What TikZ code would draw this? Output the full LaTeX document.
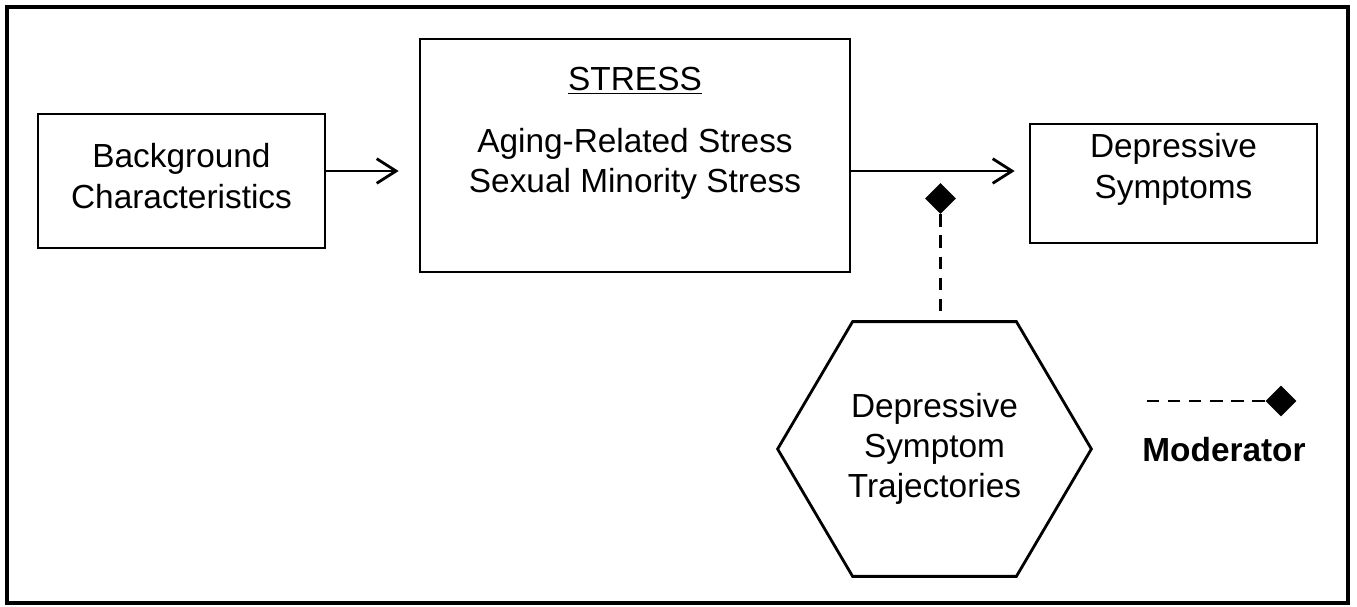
\documentclass[tikz,border=0pt]{standalone}
\usepackage{fontspec}
\setmainfont{Liberation Sans}
\usepackage{tikz}
\usetikzlibrary{arrows.meta,shapes.geometric}

\begin{document}
\begin{tikzpicture}[x=0.02cm,y=-0.02cm,
  box/.style={draw, line width=1.6pt, inner sep=0pt, align=center, font=\fontsize{19}{22.8}\selectfont},
  arr/.style={line width=1.6pt, -{Straight Barb[length=11pt,width=14pt,line width=1.6pt]}},
  moddia/.style={diamond, fill=black, inner sep=0pt, minimum size=0.62cm},
  modline/.style={line width=1.6pt, dash pattern=on 7pt off 5pt}]
\useasboundingbox (0,0) rectangle (1357,606);
\draw[line width=2pt] (7,7) rectangle (1348,603);
% boxes
\node[box, minimum width=5.74cm, text height=1.88cm, text depth=0.8cm] (bg) at (181.5,181) {Background\\Characteristics};
\node[box, minimum width=8.6cm, text height=3.08cm, text depth=1.58cm] (stress) at (635,155.5) {\underline{STRESS}\\[0.44cm]Aging-Related Stress\\Sexual Minority Stress};
\node[box, minimum width=5.74cm, text height=1.48cm, text depth=0.9cm] (dep) at (1173.5,183.5) {Depressive\\Symptoms};
\node[box, draw=none, minimum width=6.22cm, text height=3.5cm, text depth=1.54cm] (traj) at (934.5,449) {Depressive\\Symptom\\Trajectories};
\draw[line width=1.6pt] ([xshift=1.5cm]traj.north west) -- ([xshift=-1.5cm]traj.north east) -- (traj.east)
  -- ([xshift=-1.5cm]traj.south east) -- ([xshift=1.5cm]traj.south west) -- (traj.west) -- cycle;
% paths
\coordinate (row) at (0,171);
\draw[arr, shorten >=0.4cm] (bg.east |- row) -- (stress.west |- row);
\draw[arr, shorten >=0.28cm] (stress.east |- row) -- (dep.west |- row);
\node[moddia] (mod) at (940.5,198.5) {};
\draw[modline] (mod.south) -- (mod.south |- traj.north);
% key
\node[moddia] (keydia) at (1281,401) {};
\coordinate (keystart) at (1147,401);
\draw[modline] (keystart) -- (keydia.west);
\node[font=\fontsize{19}{22.8}\selectfont\bfseries, anchor=base] (keytext) at (1224,461) {Moderator};
\end{tikzpicture}
\end{document}
